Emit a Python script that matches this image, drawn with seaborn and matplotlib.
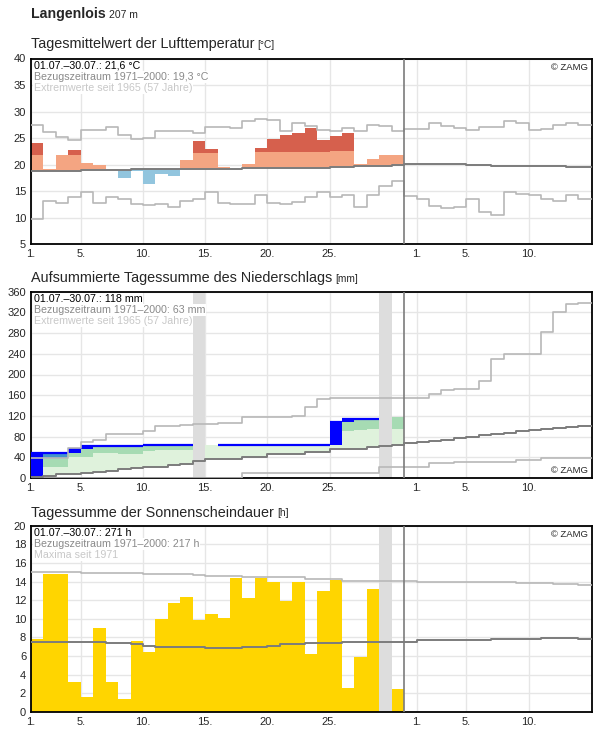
import numpy as np
import matplotlib
matplotlib.use("Agg")
import matplotlib.pyplot as plt
import seaborn as sns

# =========================
# DATA
# =========================
days = np.arange(1, 31)          # 1..30 July, each bar spans [d, d+1]
clim_pos = np.arange(1, 46)      # climatology shown 1 July .. 14 August

tick_pos = [1, 5, 10, 15, 20, 25, 32, 36, 41]
tick_labels = ["1.", "5.", "10.", "15.", "20.", "25.", "1.", "5.", "10."]

# temperature, daily mean (°C)
temp_obs = [24.0, 19.1, 21.9, 22.7, 20.4, 19.9, 19.1, 17.5, 18.8, 16.3,
            18.2, 17.9, 20.8, 24.4, 22.9, 19.5, 19.2, 20.1, 23.1, 24.9,
            25.6, 25.9, 27.0, 24.6, 25.4, 25.9, 20.2, 21.0, 21.8, 21.8]
temp_mean = [18.74, 18.87, 18.87, 18.87, 19.06, 19.06, 19.06, 19.06, 19.25, 19.25,
             19.25, 19.25, 19.25, 19.25, 19.25, 19.25, 19.25, 19.36, 19.36, 19.36,
             19.36, 19.36, 19.36, 19.36, 19.55, 19.55, 19.74, 19.74, 19.74, 20.0,
             20.19, 20.19, 20.19, 20.19, 20.19, 20.0, 20.0, 19.81, 19.81, 19.81,
             19.81, 19.81, 19.81, 19.62, 19.62]
temp_max = [27.5, 26.1, 25.25, 24.7, 26.56, 26.56, 27.1, 25.6, 24.87, 25.06,
            26.37, 26.37, 26.37, 26.0, 27.1, 27.1, 26.94, 28.25, 28.6, 28.44,
            26.43, 27.87, 27.37, 26.56, 26.37, 26.94, 26.37, 27.5, 27.31, 26.37,
            26.75, 26.75, 27.93, 27.3, 26.93, 26.56, 27.12, 27.12, 28.3, 27.93,
            26.56, 26.8, 27.5, 27.93, 27.5]
temp_min = [9.74, 13.25, 12.69, 14.0, 14.94, 12.87, 14.0, 13.5, 12.5, 12.31,
            12.5, 12.12, 13.25, 13.62, 14.94, 12.87, 12.5, 12.5, 14.37, 12.69,
            12.5, 13.06, 14.0, 14.94, 14.0, 14.37, 11.94, 14.37, 16.06, 17.0,
            14.19, 13.44, 12.25, 11.75, 12.06, 13.62, 11.06, 10.44, 14.87, 14.56,
            14.37, 13.62, 13.25, 14.37, 13.44]
STRONG_ANOMALY = 3.0   # K above normal -> dark red

# precipitation, cumulative (mm); nan = missing day
prec_cum = [47.7, 47.7, 47.7, 56.0, 61.5, 61.5, 61.5, 61.5, 61.5, 63.7,
            63.7, 63.7, 63.7, np.nan, 63.7, 63.7, 63.7, 63.7, 63.7, 63.7,
            63.7, 63.7, 63.7, 63.7, 107.5, 113.5, 113.5, 113.5, np.nan, 118.0]
prec_upper = [20.0, 21.9, 21.0, 41.2, 41.2, 47.7, 47.7, 46.4, 46.4, 52.2,
              54.1, 54.1, 54.1, np.nan, 66.0, 68.0, 70.0, 72.0, 74.0, 76.0,
              78.0, 80.0, 82.0, 85.0, 88.0, 90.8, 92.7, 94.6, np.nan, 94.6]
prec_mean = [2.6, 4.5, 7.1, 7.1, 10.3, 12.2, 14.2, 16.7, 18.7, 20.6,
             21.9, 25.1, 27.0, 32.0, 36.7, 36.7, 36.7, 41.2, 41.2, 45.7,
             45.7, 45.7, 50.8, 50.8, 55.3, 55.3, 55.3, 60.5, 61.5, 63.7,
             67.0, 68.9, 70.8, 73.4, 76.6, 79.8, 82.4, 85.0, 86.9, 91.4,
             92.7, 94.6, 96.6, 99.1, 101.0]
prec_max = [38.0, 38.0, 38.0, 58.6, 68.9, 73.4, 84.4, 84.4, 84.4, 90.8,
            101.0, 101.0, 102.4, 104.0, 103.7, 105.6, 105.6, 118.4, 118.4, 118.4,
            118.4, 119.8, 137.7, 152.6, 153.9, 153.9, 153.9, 153.9, 153.9, 153.9,
            153.9, 153.9, 161.6, 170.0, 171.9, 171.9, 187.4, 230.5, 239.5, 239.5,
            239.5, 281.4, 320.0, 336.0, 339.0]
prec_min = [0.0, 0.0, 0.0, 0.0, 0.0, 0.0, 0.0, 0.0, 0.0, 0.0,
            0.0, 0.0, 0.0, 0.0, 0.0, 0.0, 0.0, 10.3, 10.3, 10.3,
            10.3, 10.3, 10.3, 10.3, 10.3, 10.3, 10.3, 10.3, 21.0, 21.0,
            21.0, 21.0, 28.4, 28.4, 30.3, 30.3, 30.3, 30.3, 30.3, 34.8,
            34.8, 39.3, 39.3, 39.3, 39.3]
prec_missing = [14, 29]

# sunshine duration (h)
sun_obs = [7.8, 14.8, 14.8, 3.2, 1.6, 9.0, 3.2, 1.4, 7.6, 6.4,
           10.0, 11.7, 12.3, 9.9, 10.5, 10.1, 14.4, 12.2, 14.4, 14.0,
           11.9, 14.0, 6.2, 13.0, 14.2, 2.6, 5.9, 13.2, np.nan, 2.5]
sun_mean = [7.47, 7.47, 7.47, 7.47, 7.47, 7.47, 7.36, 7.36, 7.29, 7.11,
            7.0, 7.0, 6.93, 6.93, 6.9, 6.9, 6.9, 7.0, 7.0, 7.11,
            7.26, 7.26, 7.4, 7.4, 7.4, 7.54, 7.54, 7.54, 7.54, 7.54,
            7.54, 7.69, 7.69, 7.69, 7.69, 7.69, 7.69, 7.83, 7.83, 7.83,
            7.83, 7.9, 7.9, 7.9, 7.83]
sun_max = [15.0, 15.0, 15.0, 15.0, 14.89, 14.89, 14.89, 14.89, 14.89, 14.81,
           14.81, 14.81, 14.81, 14.7, 14.6, 14.6, 14.6, 14.45, 14.45, 14.45,
           14.45, 14.45, 14.27, 14.27, 14.27, 14.09, 14.09, 14.09, 14.09, 14.09,
           14.09, 13.99, 13.99, 13.99, 13.92, 13.92, 13.92, 13.92, 13.92, 13.81,
           13.81, 13.81, 13.7, 13.7, 13.6]
sun_missing = [29]

# =========================
# STYLE
# =========================
sns.set_style("white")
plt.rcParams["font.family"] = ["Liberation Sans", "DejaVu Sans"]

RED, SALMON, LBLUE = "#d6604d", "#f4a582", "#92c5de"
BLUE, STEEL = "#0000ff", "#4595c8"
GREEN_L, GREEN_M = "#dff2dc", "#a6dbb3"
GOLD = "#ffd500"
DARK, LIGHT = "#7c7c7c", "#b8b8b8"
BAND = "#dddddd"

W, H = 596, 729
fig = plt.figure(figsize=(W / 100, H / 100), dpi=100)


def add_axes(top_px, bottom_px):
    return fig.add_axes([31 / W, 1 - bottom_px / H, 561 / W, (bottom_px - top_px) / H])


def setup(ax, ylim, yticks):
    ax.set_xlim(1, 46.1)
    ax.set_ylim(*ylim)
    ax.set_yticks(yticks)
    ax.set_xticks(tick_pos)
    ax.set_xticklabels(tick_labels)
    ax.grid(True, color="#e6e6e6", lw=1)
    ax.set_axisbelow(True)
    ax.tick_params(length=0, labelsize=8, pad=3.5)
    for s in ax.spines.values():
        s.set_color("black")
        s.set_linewidth(1.3)
    ax.axvline(31, color=DARK, lw=1.2, zorder=6)


def step_line(ax, vals, color, width=1.2):
    x = np.append(clim_pos, clim_pos[-1] + 1.5)
    y = np.append(vals, vals[-1])
    sns.lineplot(x=x, y=y, ax=ax, color=color, linewidth=width,
                 drawstyle="steps-post", estimator=None, sort=False, zorder=5)


def info(ax, lines):
    colors = ["black", "#8a8a8a", "#c8c8c8"]
    for i, (txt, c) in enumerate(zip(lines, colors)):
        ax.annotate(txt, xy=(0, 1), xycoords="axes fraction",
                    xytext=(2.0, -1.8 - 7.9 * i), textcoords="offset points",
                    ha="left", va="top", fontsize=7.7, color=c, zorder=10,
                    bbox=dict(fc="white", ec="none", pad=0.6))


def zamg(ax, top=True):
    if top:
        ax.annotate("© ZAMG", xy=(1, 1), xycoords="axes fraction", xytext=(-3, -3),
                    textcoords="offset points", ha="right", va="top", fontsize=6.8, zorder=10)
    else:
        ax.annotate("© ZAMG", xy=(1, 0), xycoords="axes fraction", xytext=(-3, 2.5),
                    textcoords="offset points", ha="right", va="bottom", fontsize=6.8, zorder=10)


def title(y_px, main, unit, bold=False, size=10.4, unit_size=7.3):
    r = fig.canvas.get_renderer()
    t = fig.text(31 / W, 1 - y_px / H, main, fontsize=size, va="baseline",
                 fontweight="bold" if bold else "normal")
    bb = t.get_window_extent(r)
    fig.text(bb.x1 / W + 3 / W, 1 - y_px / H, unit, fontsize=unit_size, va="baseline")


# =========================
# TEMPERATURE
# =========================
ax1 = add_axes(58.5, 244.3)
t = np.array(temp_obs)
m = np.array(temp_mean[:30])
warm = t > m
lim = m + STRONG_ANOMALY
ax1.bar(days[warm], (np.minimum(t, lim) - m)[warm], bottom=m[warm], width=1,
        align="edge", color=SALMON, lw=0, zorder=2)
hot = t > lim
ax1.bar(days[hot], (t - lim)[hot], bottom=lim[hot], width=1,
        align="edge", color=RED, lw=0, zorder=2)
cold = t < m
ax1.bar(days[cold], (m - t)[cold], bottom=t[cold], width=1,
        align="edge", color=LBLUE, lw=0, zorder=2)
step_line(ax1, temp_max, LIGHT)
step_line(ax1, temp_min, LIGHT)
step_line(ax1, temp_mean, DARK, 1.4)
setup(ax1, (5, 40), np.arange(5, 41, 5))
info(ax1, ["01.07.–30.07.: 21,6 °C", "Bezugszeitraum 1971–2000: 19,3 °C",
           "Extremwerte seit 1965 (57 Jahre)"])
zamg(ax1)

# =========================
# PRECIPITATION
# =========================
ax2 = add_axes(291.7, 478.0)
cum = np.array(prec_cum)
up = np.array(prec_upper)
pm = np.array(prec_mean[:30])
px = np.array(prec_max[:30])
ok = ~np.isnan(cum)

light_top = np.minimum(cum, up)
ax2.bar(days[ok], (light_top - pm)[ok], bottom=pm[ok], width=1, align="edge",
        color=GREEN_L, lw=0, zorder=2)
mid = ok & (cum > up)
ax2.bar(days[mid], (np.minimum(cum, px) - up)[mid], bottom=up[mid], width=1,
        align="edge", color=GREEN_M, lw=0, zorder=2)
rec = ok & (cum > px)
ax2.bar(days[rec], (cum - px)[rec], bottom=px[rec], width=1, align="edge",
        color=STEEL, lw=0, zorder=2)

prev = np.r_[0.0, cum[:-1]]
linked = ok & ~np.isnan(prev)
rain = linked & (cum > prev)
ax2.bar(days[rain], (cum - prev)[rain], bottom=prev[rain], width=1, align="edge",
        color=BLUE, lw=0, zorder=3)
ax2.hlines(cum[linked], days[linked], days[linked] + 1, color=BLUE, lw=1.6, zorder=4)

for d in prec_missing:
    ax2.axvspan(d, d + 1, color=BAND, lw=0, zorder=1.5)
step_line(ax2, prec_max, LIGHT)
step_line(ax2, prec_min, LIGHT)
step_line(ax2, prec_mean, DARK, 1.4)
setup(ax2, (0, 360), np.arange(0, 361, 40))
info(ax2, ["01.07.–30.07.: 118 mm", "Bezugszeitraum 1971–2000: 63 mm",
           "Extremwerte seit 1965 (57 Jahre)"])
zamg(ax2, top=False)

# =========================
# SUNSHINE
# =========================
ax3 = add_axes(525.7, 711.9)
s = np.array(sun_obs)
oks = ~np.isnan(s)
ax3.bar(days[oks], s[oks], width=1, align="edge", color=GOLD, lw=0, zorder=2)
for d in sun_missing:
    ax3.axvspan(d, d + 1, color=BAND, lw=0, zorder=1.5)
step_line(ax3, sun_max, LIGHT)
step_line(ax3, sun_mean, DARK, 1.4)
setup(ax3, (0, 20), np.arange(0, 21, 2))
info(ax3, ["01.07.–30.07.: 271 h", "Bezugszeitraum 1971–2000: 217 h", "Maxima seit 1971"])
zamg(ax3)

# =========================
# TITLES
# =========================
title(18.3, "Langenlois", "207 m", bold=True, size=10.2, unit_size=7.5)
title(48.3, "Tagesmittelwert der Lufttemperatur", "[°C]")
title(282.0, "Aufsummierte Tagessumme des Niederschlags", "[mm]")
title(516.5, "Tagessumme der Sonnenscheindauer", "[h]")

fig.savefig("out.png", dpi=100)
